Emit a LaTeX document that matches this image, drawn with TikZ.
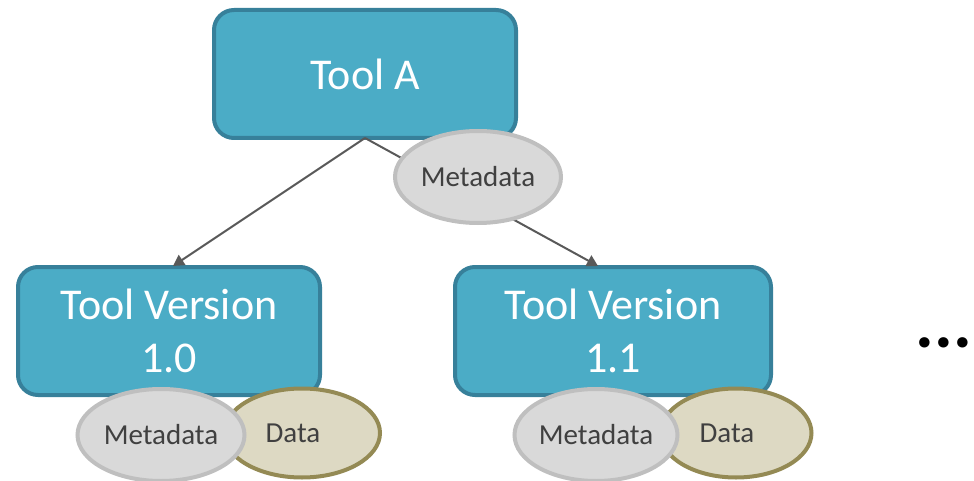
\documentclass[tikz,border=0pt]{standalone}
\usepackage{fontspec}
\setmainfont{Carlito}
\usetikzlibrary{shapes.geometric,arrows.meta}

\definecolor{boxfill}{HTML}{4BACC6}
\definecolor{boxline}{HTML}{37809A}
\definecolor{metafill}{HTML}{D9D9D9}
\definecolor{metaline}{HTML}{BFBFBF}
\definecolor{datafill}{HTML}{DDD9C3}
\definecolor{dataline}{HTML}{948A54}
\definecolor{linkgray}{HTML}{595959}
\definecolor{labelgray}{HTML}{404040}

\tikzset{
  toolbox/.style={draw=boxline, fill=boxfill, line width=4pt, rounded corners=20pt,
    minimum height=128pt, inner sep=0pt, align=center, text=white,
    font=\fontsize{44}{53}\selectfont},
  metablob/.style={ellipse, draw=metaline, fill=metafill, line width=4pt,
    minimum width=166pt, minimum height=92pt, inner sep=0pt, text=labelgray,
    font=\fontsize{29}{33}\selectfont},
  datablob/.style={ellipse, draw=dataline, fill=datafill, line width=4pt,
    minimum width=156pt, minimum height=89pt, inner sep=0pt, text=labelgray,
    font=\fontsize{29}{33}\selectfont},
  link/.style={draw=linkgray, line width=2pt, -{Triangle[length=11pt,width=12pt]}}
}

\begin{document}
\begin{tikzpicture}[x=1pt, y=-1pt]
  \useasboundingbox (0,0) rectangle (974,481);

  % tool and its versions
  \node[toolbox, minimum width=302pt] (toolA) at (365,74) {Tool A};
  \node[toolbox, minimum width=302pt] (v10) at (169,331) {Tool Version\\1.0};
  \node[toolbox, minimum width=316pt] (v11) at (613,331) {Tool Version\\1.1};

  % version links
  \coordinate (root) at (365,138);
  \coordinate (in10) at (173,266);
  \coordinate (in11) at (598,266);
  \draw[link] (root) -- (in10);
  \draw[link] (root) -- (in11);

  % metadata attached to the tool
  \node[metablob] (metaA) at (478,177) {Metadata};

  % version 1.0 payload
  \node[datablob] (data10) at (302,433) {\hspace*{-18pt}Data};
  \node[metablob, minimum width=167pt] (meta10) at (161,435) {Metadata};

  % version 1.1 payload
  \node[datablob, minimum width=151pt] (data11) at (736,433) {\hspace*{-18pt}Data};
  \node[metablob, minimum width=163pt] (meta11) at (596,435) {Metadata};

  % further versions
  \node[font=\fontsize{70}{70}\selectfont\bfseries, inner sep=0pt, anchor=east] (more) at (972,343) {...};
\end{tikzpicture}
\end{document}
